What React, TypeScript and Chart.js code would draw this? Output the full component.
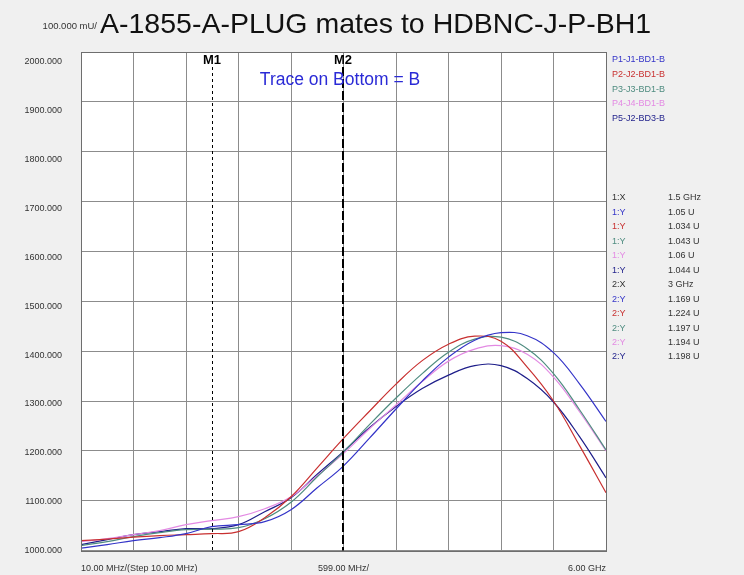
import React, { useEffect, useRef } from "react";
import { Chart, registerables } from "chart.js";

Chart.register(...registerables);

// ---- data ----
const titleText = "A-1855-A-PLUG mates to HDBNC-J-P-BH1";
const yUnitText = "100.000 mU/";
const traceNote = "Trace on Bottom = B";

const freqsMHz = [10, 309, 609, 908, 1208, 1500, 1807, 2106, 2406, 2705, 3000, 3304, 3604, 3903, 4203, 4502, 4802, 5101, 5401, 5700, 6000];

const p1 = [1005, 1012, 1020, 1026, 1034, 1048, 1052, 1058, 1082, 1126, 1169, 1226, 1284, 1340, 1388, 1422, 1437, 1431, 1397, 1334, 1259];
const p2 = [1020, 1023, 1027, 1030, 1032, 1034, 1038, 1066, 1108, 1166, 1224, 1280, 1334, 1381, 1414, 1430, 1420, 1368, 1300, 1210, 1116];
const p3 = [1010, 1018, 1028, 1036, 1042, 1043, 1046, 1064, 1097, 1148, 1197, 1253, 1306, 1355, 1398, 1424, 1428, 1405, 1355, 1282, 1202];
const p4 = [1018, 1024, 1032, 1040, 1052, 1060, 1068, 1084, 1108, 1150, 1194, 1245, 1292, 1339, 1380, 1404, 1411, 1394, 1348, 1278, 1200];
const p5 = [1012, 1022, 1032, 1038, 1044, 1044, 1052, 1078, 1106, 1153, 1198, 1247, 1289, 1325, 1352, 1371, 1371, 1345, 1298, 1228, 1146];

const seriesNames = ["P1-J1-BD1-B", "P2-J2-BD1-B", "P3-J3-BD1-B", "P4-J4-BD1-B", "P5-J2-BD3-B"];
const seriesValues = [p1, p2, p3, p4, p5];
const seriesColors = ["#3434c8", "#c83030", "#4f8c80", "#e38ae3", "#1e1e8a"];

const xGridTicks = [10, 609, 1208, 1807, 2406, 3005, 3604, 4203, 4802, 5401, 6000];
const xLabelTicks = [10, 3005, 6000];
const xLabelTexts = ["10.00 MHz/(Step 10.00 MHz)", "599.00 MHz/", "6.00 GHz"];
const yGridTicks = [1000, 1100, 1200, 1300, 1400, 1500, 1600, 1700, 1800, 1900, 2000];
const yLabelTicks = [1000, 1100, 1200, 1300, 1400, 1500, 1600, 1700, 1800, 1900, 2000];

const markerFreqs = [1500, 3000];
const markerNames = ["M1", "M2"];

const markerRowLabels = ["1:X", "1:Y", "1:Y", "1:Y", "1:Y", "1:Y", "2:X", "2:Y", "2:Y", "2:Y", "2:Y", "2:Y"];
const markerRowValues = ["1.5 GHz", "1.05 U", "1.034 U", "1.043 U", "1.06 U", "1.044 U", "3 GHz", "1.169 U", "1.224 U", "1.197 U", "1.194 U", "1.198 U"];
const markerRowSeries = [-1, 0, 1, 2, 3, 4, -1, 0, 1, 2, 3, 4];

const FONT = "'Liberation Sans', Arial, sans-serif";

export default function App() {
  const ref = useRef<HTMLCanvasElement | null>(null);

  useEffect(() => {
    if (!ref.current) return;

    const decor = {
      id: "decor",
      beforeDraw(chart: any) {
        const { ctx, chartArea } = chart;
        ctx.save();
        ctx.fillStyle = "#ffffff";
        ctx.fillRect(chartArea.left, chartArea.top, chartArea.right - chartArea.left, chartArea.bottom - chartArea.top);
        ctx.restore();
      },
      afterDatasetsDraw(chart: any) {
        const { ctx, chartArea } = chart;
        const xs = chart.scales.x;
        ctx.save();
        // frame
        ctx.strokeStyle = "#6e6e6e";
        ctx.lineWidth = 1;
        ctx.strokeRect(Math.round(chartArea.left) + 0.5, Math.round(chartArea.top) + 0.5,
          Math.round(chartArea.right - chartArea.left), Math.round(chartArea.bottom - chartArea.top));
        // markers
        markerFreqs.forEach((f, i) => {
          const px = Math.round(xs.getPixelForValue(f));
          ctx.beginPath();
          ctx.strokeStyle = "#000";
          if (i === 0) {
            ctx.lineWidth = 1;
            ctx.setLineDash([3, 3]);
            ctx.moveTo(px + 0.5, chartArea.top + 15);
            ctx.lineTo(px + 0.5, chartArea.bottom);
          } else {
            ctx.lineWidth = 2;
            ctx.setLineDash([9, 3]);
            ctx.moveTo(px, chartArea.top + 15);
            ctx.lineTo(px, chartArea.bottom);
          }
          ctx.stroke();
          ctx.setLineDash([]);
          ctx.fillStyle = "#000";
          ctx.font = `bold 13px ${FONT}`;
          ctx.textAlign = "center";
          ctx.textBaseline = "middle";
          ctx.fillText(markerNames[i], px, chartArea.top + 8);
        });
        // trace note
        ctx.fillStyle = "#2a2ad6";
        ctx.font = `17.5px ${FONT}`;
        ctx.textAlign = "center";
        ctx.textBaseline = "middle";
        ctx.fillText(traceNote, 340, 80);
        ctx.restore();
      },
      afterDraw(chart: any) {
        const { ctx } = chart;
        ctx.save();
        // title
        ctx.fillStyle = "#111";
        ctx.font = `28.5px ${FONT}`;
        ctx.textAlign = "left";
        ctx.textBaseline = "alphabetic";
        ctx.fillText(titleText, 100, 33);
        ctx.font = `9.5px ${FONT}`;
        ctx.textAlign = "right";
        ctx.fillStyle = "#333";
        ctx.fillText(yUnitText, 97, 29);
        // legend
        ctx.font = `9px ${FONT}`;
        ctx.textAlign = "left";
        ctx.textBaseline = "middle";
        seriesNames.forEach((n, i) => {
          ctx.fillStyle = seriesColors[i];
          ctx.fillText(n, 612, 60 + 14.6 * i);
        });
        // marker table
        markerRowLabels.forEach((l, i) => {
          const s = markerRowSeries[i];
          const y = 198 + 14.45 * i;
          ctx.fillStyle = s < 0 ? "#333" : seriesColors[s];
          ctx.fillText(l, 612, y);
          ctx.fillStyle = "#333";
          ctx.fillText(markerRowValues[i], 668, y);
        });
        ctx.restore();
      },
    };

    const chart = new Chart(ref.current, {
      type: "line",
      data: {
        datasets: seriesValues.map((vals, i) => ({
          label: seriesNames[i],
          data: freqsMHz.map((f, j) => ({ x: f, y: vals[j] })),
          borderColor: seriesColors[i],
          backgroundColor: seriesColors[i],
          borderWidth: 1.2,
          pointRadius: 0,
          fill: false,
          tension: 0.4,
        })),
      },
      options: {
        responsive: false,
        animation: false,
        devicePixelRatio: 1,
        layout: { padding: { top: 52, right: 138, left: 0, bottom: 0 } },
        plugins: { legend: { display: false }, title: { display: false }, tooltip: { enabled: false } },
        scales: {
          x: {
            type: "linear",
            position: "bottom",
            min: 10,
            max: 6000,
            afterBuildTicks: (s: any) => { s.ticks = xGridTicks.map((v) => ({ value: v })); },
            afterFit: (s: any) => { s.height = 0; },
            ticks: { display: false },
            grid: { color: "#8c8c8c", lineWidth: 1, drawTicks: false },
            border: { display: false },
          },
          xLbl: {
            type: "linear",
            position: "bottom",
            min: 10,
            max: 6000,
            afterBuildTicks: (s: any) => { s.ticks = xLabelTicks.map((v) => ({ value: v })); },
            afterFit: (s: any) => { s.height = 22; },
            ticks: {
              align: "inner",
              padding: 13,
              maxRotation: 0,
              autoSkip: false,
              color: "#333",
              font: { family: FONT, size: 9 },
              callback: (_v: any, i: number) => xLabelTexts[i],
            },
            grid: { display: false, drawTicks: false },
            border: { display: false },
          },
          y: {
            type: "linear",
            position: "left",
            min: 1000,
            max: 2000,
            afterBuildTicks: (s: any) => { s.ticks = yGridTicks.map((v) => ({ value: v })); },
            afterFit: (s: any) => { s.width = 0; },
            ticks: { display: false },
            grid: { color: "#8c8c8c", lineWidth: 1, drawTicks: false },
            border: { display: false },
          },
          yLbl: {
            type: "linear",
            position: "left",
            min: 1000,
            max: 2020.4,
            afterBuildTicks: (s: any) => { s.ticks = yLabelTicks.map((v) => ({ value: v })); },
            afterFit: (s: any) => { s.width = 81; },
            ticks: {
              padding: 19,
              color: "#333",
              font: { family: FONT, size: 9 },
              callback: (v: any) => Number(v).toFixed(3),
            },
            grid: { display: false, drawTicks: false },
            border: { display: false },
          },
        },
      } as any,
      plugins: [decor],
    });
    return () => chart.destroy();
  }, []);

  return (
    <div style={{ position: "fixed", left: 0, top: 0, width: 744, height: 575, background: "#f0f0f0" }}>
      <canvas ref={ref} width={744} height={575} style={{ display: "block" }} />
    </div>
  );
}
